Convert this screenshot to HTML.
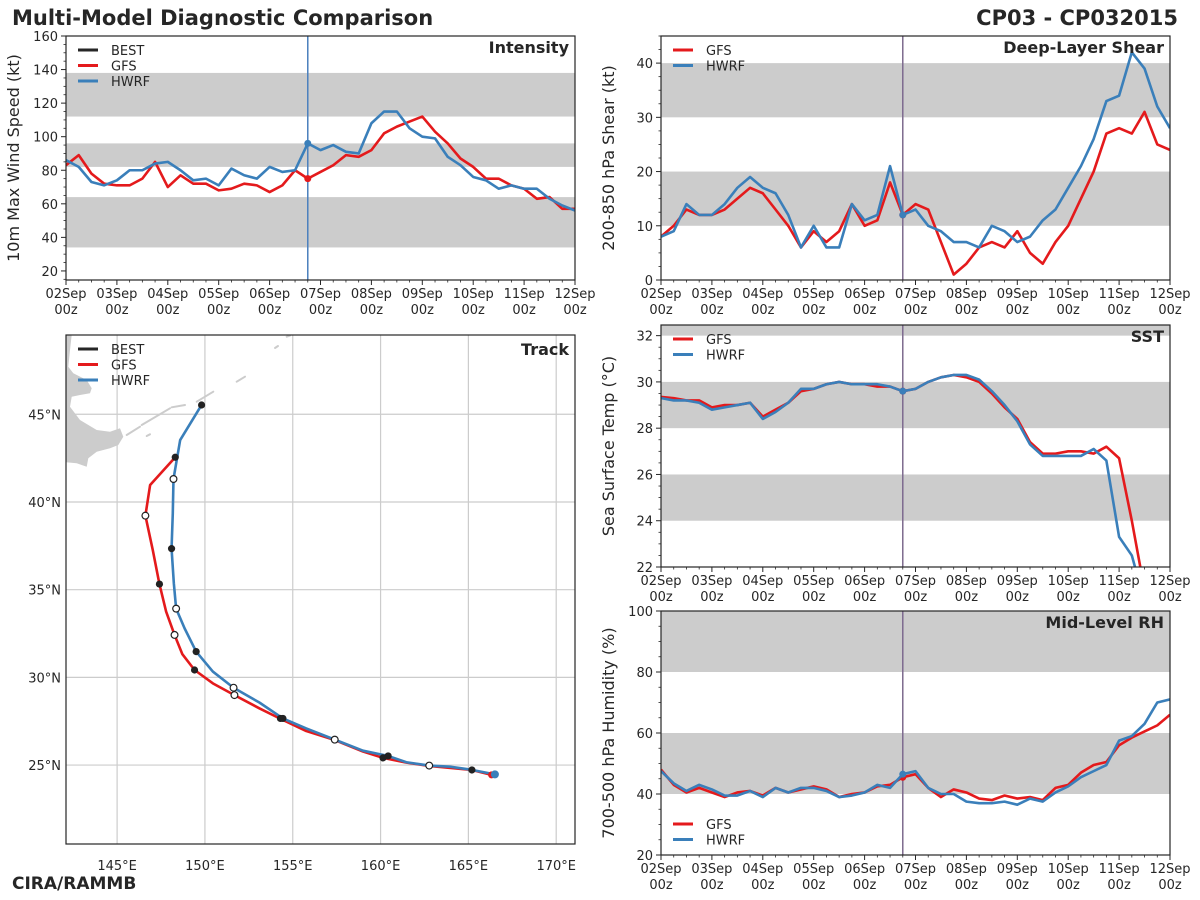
<!DOCTYPE html>
<html><head><meta charset="utf-8"><style>
html,body{margin:0;padding:0;background:#fff;}
svg{display:block;font-family:"DejaVu Sans","Liberation Sans",sans-serif;}
</style></head><body>
<svg id="root" width="1200" height="900" viewBox="0 0 1200 900" xmlns="http://www.w3.org/2000/svg">
<text x="12" y="25" font-size="21" font-weight="bold" fill="#262626">Multi-Model Diagnostic Comparison</text>
<text x="1178" y="25" font-size="21" font-weight="bold" fill="#262626" text-anchor="end">CP03 - CP032015</text>
<text x="12" y="889" font-size="17" font-weight="bold" fill="#262626">CIRA/RAMMB</text>
<g id="panels"></g>
</svg>
<script>
// ---- time axis ----
const dayLabels = ["02Sep","03Sep","04Sep","05Sep","06Sep","07Sep","08Sep","09Sep","10Sep","11Sep","12Sep"];
const initIndex = 19; // 06Sep 18z
// ---- intensity (kt) ----
const intGFS = [83,89,78,72,71,71,75,85,70,77,72,72,68,69,72,71,67,71,80,75,79,83,89,88,92,102,106,109,112,103,96,87,82,75,75,71,69,63,64,57,57];
const intHWRF = [86,82,73,71,74,80,80,84,85,80,74,75,71,81,77,75,82,79,80,96,92,95,91,90,108,115,115,105,100,99,88,83,76,74,69,71,69,69,63,59,56];
const intTicks = [20,40,60,80,100,120,140,160];
const intBands = [[34,64],[82,96],[112,138]];
// ---- shear (kt) ----
const shrGFS = [8,10,13,12,12,13,15,17,16,13,10,6,9,7,9,14,10,11,18,12,14,13,7,1,3,6,7,6,9,5,3,7,10,15,20,27,28,27,31,25,24];
const shrHWRF = [8,9,14,12,12,14,17,19,17,16,12,6,10,6,6,14,11,12,21,12,13,10,9,7,7,6,10,9,7,8,11,13,17,21,26,33,34,42,39,32,28];
const shrTicks = [0,10,20,30,40];
const shrBands = [[10,20],[30,40]];
// ---- SST (C) ----
const sstGFS = [29.35,29.3,29.2,29.2,28.9,29.0,29.0,29.1,28.5,28.8,29.1,29.6,29.7,29.9,30.0,29.9,29.9,29.8,29.8,29.6,29.7,30.0,30.2,30.3,30.2,30.0,29.5,28.9,28.4,27.4,26.9,26.9,27.0,27.0,26.9,27.2,26.7,24.0,21.0];
const sstHWRF = [29.3,29.2,29.2,29.1,28.8,28.9,29.0,29.1,28.4,28.7,29.1,29.7,29.7,29.9,30.0,29.9,29.9,29.9,29.8,29.6,29.7,30.0,30.2,30.3,30.3,30.1,29.6,29.0,28.3,27.3,26.8,26.8,26.8,26.8,27.1,26.6,23.3,22.5,20.5];
const sstTicks = [22,24,26,28,30,32];
const sstBands = [[24,26],[28,30],[32,40]];
// ---- RH (%) ----
const rhGFS = [48,43,40.5,42,40.5,39,40.5,41,39.5,42,40.5,41.5,42.5,41.5,39,40,40.5,42.5,43,45.5,46.5,42,39,41.5,40.5,38.5,38,39.5,38.5,39,38,42,43,47,49.5,50.5,56,58.5,60.5,62.5,66];
const rhHWRF = [47.5,43.5,41,43,41.5,39.5,39.5,41,39,42,40.5,42,42,41,39,39.5,40.5,43,42,46.5,47.5,42,40,40,37.5,37,37,37.5,36.5,38.5,37.5,40.5,42.5,45.5,47.5,49.5,57.5,59,63,70,71];
const rhTicks = [20,40,60,80,100];
const rhBands = [[40,60],[80,100]];
// ---- track (lon, lat) ----
const trkGFSLon = [166.32,165.20,162.77,161.47,160.14,159.0,157.39,155.77,154.44,153.11,151.68,150.45,149.41,148.71,148.27,147.79,147.41,147.03,146.61,146.88,148.31];
const trkGFSLat = [24.44,24.72,24.95,25.14,25.41,25.77,26.43,26.94,27.57,28.23,28.99,29.66,30.42,31.33,32.42,33.75,35.32,37.26,39.22,40.97,42.55];
const trkHWRFLon = [166.51,165.01,163.95,162.77,161.47,160.43,159.0,157.39,155.77,154.44,153.11,151.63,150.45,149.50,148.84,148.36,148.23,148.10,148.17,148.21,148.59,149.81];
const trkHWRFLat = [24.47,24.76,24.91,24.97,25.16,25.52,25.82,26.45,27.09,27.66,28.56,29.41,30.33,31.47,32.80,33.92,35.36,37.34,39.35,41.31,43.53,45.53];
const dotFilledLon = [149.81,148.31,148.10,147.41,149.50,149.41,154.30,154.44,160.43,160.14,165.20];
const dotFilledLat = [45.53,42.55,37.34,35.32,31.47,30.42,27.66,27.66,25.52,25.41,24.72];
const dotOpenLon = [148.21,146.61,148.36,148.27,151.63,151.68,157.39,162.77];
const dotOpenLat = [41.31,39.22,33.92,32.42,29.41,28.99,26.45,24.97];
const lonTicks = [145,150,155,160,165,170];
const latTicks = [25,30,35,40,45];

const NS="http://www.w3.org/2000/svg";
const RED="#e41a1c", BLUE="#3a7fba", BAND="#cccccc", INK="#262626";
const G=document.getElementById('panels');
function el(tag,attrs,parent){const e=document.createElementNS(NS,tag);for(const k in attrs)e.setAttribute(k,attrs[k]);(parent||G).appendChild(e);return e;}
function txt(s,attrs,parent){const e=el('text',attrs,parent);e.textContent=s;return e;}

function tsPanel(o){
  const g=el('g',{});
  
  
  const X=i=>o.L+(o.R-o.L)*i/40, Y=v=>o.B-(o.B-o.T)*(v-o.ymin)/(o.ymax-o.ymin);
  const cid='clip-'+o.name;
  const cp=el('clipPath',{id:cid},g); el('rect',{x:o.L,y:o.T,width:o.R-o.L,height:o.B-o.T},cp);
  o.bands.forEach(b=>{
    const r=el('rect',{x:o.L,y:Y(Math.min(b[1],o.ymax)),width:o.R-o.L,height:Y(b[0])-Y(Math.min(b[1],o.ymax)),fill:BAND},g);
    
    
  });
  const vx=X(initIndex);
  const vl=el('line',{x1:vx,x2:vx,y1:o.T,y2:o.B,stroke:o.vcol,'stroke-width':1.5},g);
  
  
  o.series.forEach(s=>{
    const p=el('polyline',{points:s.d.map((v,i)=>X(i)+','+Y(v)).join(' '),fill:'none',stroke:s.c,'stroke-width':2.6,'stroke-linejoin':'round','clip-path':'url(#'+cid+')'},g);
    
    
    const c=el('circle',{cx:X(initIndex),cy:Y(s.d[initIndex]),r:3.5,fill:s.c},g);
    
    
  });
  el('rect',{x:o.L,y:o.T,width:o.R-o.L,height:o.B-o.T,fill:'none',stroke:INK,'stroke-width':1.2},g);
  o.ticks.forEach(t=>{
    el('line',{x1:o.L-5,x2:o.L,y1:Y(t),y2:Y(t),stroke:INK,'stroke-width':1},g);
    const tl=txt(String(t),{x:o.L-8,y:Y(t)+5,'font-size':13,fill:INK,'text-anchor':'end'},g);
    
    
  });
  const step=o.ticks[1]-o.ticks[0];
  for(let v=o.ticks[0]-step; v<=o.ymax; v+=step/4){
    if(v<o.ymin||o.ticks.includes(v))continue;
    el('line',{x1:o.L-2.5,x2:o.L,y1:Y(v),y2:Y(v),stroke:INK,'stroke-width':0.8},g);
  }
  for(let i=0;i<=40;i++){
    const major=i%4===0;
    el('line',{x1:X(i),x2:X(i),y1:o.B,y2:o.B+(major?5:2.5),stroke:INK,'stroke-width':major?1:0.8},g);
    if(major){
      const a=txt(dayLabels[i/4],{x:X(i),y:o.B+18,'font-size':13,fill:INK,'text-anchor':'middle'},g);
      
      
      const b=txt('00z',{x:X(i),y:o.B+34,'font-size':13,fill:INK,'text-anchor':'middle'},g);
      
      
    }
  }
  const cy=(o.T+o.B)/2;
  const yt=txt(o.ytitle,{x:0,y:0,'font-size':16,fill:INK,'text-anchor':'middle',transform:`translate(${o.L-47},${cy}) rotate(-90)`},g);
  
  
  const pt=txt(o.title,{x:o.R-6,y:o.T+17,'font-size':16,'font-weight':'bold',fill:INK,'text-anchor':'end'},g);
  
  
  legend(g,o.L+12,o.legY,o.legItems);
}
function legend(g,x,y,items){
  items.forEach((it,k)=>{
    const yy=y+k*15.5;
    const ln=el('line',{x1:x,x2:x+20,y1:yy,y2:yy,stroke:it[1],'stroke-width':3},g);
    
    
    const t=txt(it[0],{x:x+33,y:yy+5,'font-size':13,fill:INK},g);
    
    
  });
}
tsPanel({name:'intensity',L:66,R:575,T:36,B:280,ymin:14.6,ymax:160,ticks:intTicks,bands:intBands,vcol:'#4a7fbd',
  series:[{n:'GFS',c:RED,d:intGFS},{n:'HWRF',c:BLUE,d:intHWRF}],ytitle:'10m Max Wind Speed (kt)',title:'Intensity',
  legY:50,legItems:[['BEST','#262626'],['GFS',RED],['HWRF',BLUE]]});
tsPanel({name:'shear',L:661,R:1170,T:36,B:280,ymin:0,ymax:45,ticks:shrTicks,bands:shrBands,vcol:'#7d6a8e',
  series:[{n:'GFS',c:RED,d:shrGFS},{n:'HWRF',c:BLUE,d:shrHWRF}],ytitle:'200-850 hPa Shear (kt)',title:'Deep-Layer Shear',
  legY:50,legItems:[['GFS',RED],['HWRF',BLUE]]});
tsPanel({name:'sst',L:661,R:1170,T:325,B:567,ymin:22,ymax:32.46,ticks:sstTicks,bands:sstBands,vcol:'#7d6a8e',
  series:[{n:'GFS',c:RED,d:sstGFS},{n:'HWRF',c:BLUE,d:sstHWRF}],ytitle:'Sea Surface Temp (°C)',title:'SST',
  legY:339,legItems:[['GFS',RED],['HWRF',BLUE]]});
tsPanel({name:'rh',L:661,R:1170,T:611,B:855,ymin:20,ymax:100,ticks:rhTicks,bands:rhBands,vcol:'#7d6a8e',
  series:[{n:'GFS',c:RED,d:rhGFS},{n:'HWRF',c:BLUE,d:rhHWRF}],ytitle:'700-500 hPa Humidity (%)',title:'Mid-Level RH',
  legY:824,legItems:[['GFS',RED],['HWRF',BLUE]]});

// ---- track map ----
(function(){
  const L=66,R=575,T=335,B=844, lon0=142.09, lon1=171.07, lat0=20.5, lat1=49.52;
  const X=lo=>L+(R-L)*(lo-lon0)/(lon1-lon0), Y=la=>B-(B-T)*(la-lat0)/(lat1-lat0);
  const g=el('g',{});
  
  
  const cp=el('clipPath',{id:'clip-track'},g); el('rect',{x:L,y:T,width:R-L,height:B-T},cp);
  const land=el('g',{'clip-path':'url(#clip-track)'},g);
  
  
  el('polygon',{points:'60,335 71.7,335 70,350 68.3,366.7 73.3,373.3 86.7,380 91.7,388.3 90,393.3 80,395 71.7,396.7 70,406.7 80,420 96.7,430 110,431.7 120,428.3 123.3,436.7 118.3,445 110,448.3 96.7,451.7 88.3,458.3 86.7,466.7 76.7,463.3 60,461.7',fill:BAND},land);
  const isl=[[126.7,435,140,426.7],[141.7,425,170,408.3],[171.7,407.3,185,405],[146.7,436,150,434.3],[196.7,401.7,213.3,391.7],[236.7,381.7,245,376.7],[275,348,278,346],[286.7,336.7,290,335.5]];
  isl.forEach(s=>el('line',{x1:s[0],y1:s[1],x2:s[2],y2:s[3],stroke:BAND,'stroke-width':2,'stroke-linecap':'round'},land));
  lonTicks.forEach(lo=>{
    el('line',{x1:X(lo),x2:X(lo),y1:T,y2:B,stroke:'#cccccc','stroke-width':1.2},g);
    const t=txt(lo+'°E',{x:X(lo),y:B+26,'font-size':13,fill:INK,'text-anchor':'middle'},g);
    
    
  });
  latTicks.forEach(la=>{
    el('line',{x1:L,x2:R,y1:Y(la),y2:Y(la),stroke:'#cccccc','stroke-width':1.2},g);
    const t=txt(la+'°N',{x:L-5,y:Y(la)+5,'font-size':13,fill:INK,'text-anchor':'end'},g);
    
    
  });
  const r=el('polyline',{points:trkGFSLon.map((lo,i)=>X(lo)+','+Y(trkGFSLat[i])).join(' '),fill:'none',stroke:RED,'stroke-width':2.6,'stroke-linejoin':'round'},g);
  
  
  const b=el('polyline',{points:trkHWRFLon.map((lo,i)=>X(lo)+','+Y(trkHWRFLat[i])).join(' '),fill:'none',stroke:BLUE,'stroke-width':2.6,'stroke-linejoin':'round'},g);
  
  
  const e1=el('circle',{cx:X(trkGFSLon[0]),cy:Y(trkGFSLat[0]),r:3.5,fill:RED},g);
  
  
  const e2=el('circle',{cx:X(trkHWRFLon[0]),cy:Y(trkHWRFLat[0]),r:4,fill:BLUE},g);
  
  
  dotFilledLon.forEach((lo,i)=>{
    const c=el('circle',{cx:X(lo),cy:Y(dotFilledLat[i]),r:3.6,fill:'#222'},g);
    
    
  });
  dotOpenLon.forEach((lo,i)=>{
    const c=el('circle',{cx:X(lo),cy:Y(dotOpenLat[i]),r:3.4,fill:'#fff',stroke:'#222','stroke-width':1.2},g);
    
    
  });
  el('rect',{x:L,y:T,width:R-L,height:B-T,fill:'none',stroke:INK,'stroke-width':1.2},g);
  const pt=txt('Track',{x:R-6,y:T+20,'font-size':16,'font-weight':'bold',fill:INK,'text-anchor':'end'},g);
  
  
  legend(g,78,349,[['BEST','#262626'],['GFS',RED],['HWRF',BLUE]]);
})();
</script>
</body></html>
